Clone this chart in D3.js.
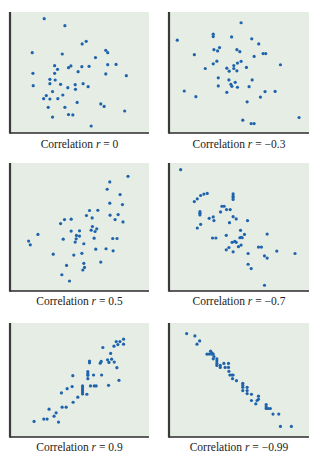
<!DOCTYPE html>
<html><head><meta charset="utf-8">
<script src="https://cdn.jsdelivr.net/npm/d3@7"></script>
<style>html,body{margin:0;padding:0;background:#fff;}svg{display:block;}</style>
</head><body>
<svg id="c" width="323" height="460"></svg>
<script>
// Panel labels (correlation coefficients)
const rLabels = ["0", "\u22120.3", "0.5", "\u22120.7", "0.9", "\u22120.99"];

// Panel 1: r = 0
const p1x = [24.6,39.5,51.9,54.8,16.0,37.6,68.9,70.3,61.5,32.1,34.2,42.1,43.8,51.7,56.9,70.3,76.3,16.5,32.1,49.0,68.9,83.7,28.7,32.5,16.7,28.7,36.4,46.9,52.6,41.6,47.1,56.2,30.6,38.0,26.1,24.2,28.7,34.4,48.3,65.3,67.7,27.5,39.5,82.5,42.1,45.2,30.6,58.4];
const p1y = [94.5,88.7,73.6,75.8,66.4,65.3,68.3,66.4,62.3,55.6,52.6,54.0,55.4,54.8,55.1,56.5,56.7,49.3,49.3,50.7,48.8,47.4,44.4,43.8,39.1,40.8,40.2,39.9,40.8,37.5,36.1,38.3,34.2,31.4,30.9,28.4,28.1,28.4,25.3,24.0,22.0,21.2,21.2,18.2,15.2,14.9,13.2,5.8];

// Panel 2: r = -0.3
const p2x = [51.5,31.6,31.6,5.9,44.7,59.1,64.1,36.1,32.1,34.7,48.5,50.6,18.1,67.2,69.1,60.8,34.2,31.6,51.5,48.9,46.3,41.3,46.3,43.0,48.5,25.9,55.3,79.6,35.2,42.8,59.4,47.3,44.2,44.9,35.2,48.9,57.2,41.3,68.6,75.8,10.9,19.2,65.3,55.8,92.9,52.7,58.7,60.8];
const p2y = [91.1,81.7,79.7,76.7,79.4,77.8,73.6,70.6,68.9,67.8,68.9,67.2,64.7,65.6,65.6,63.3,59.4,57.2,59.2,57.8,55.8,53.6,53.3,51.1,51.4,53.3,54.2,56.4,45.6,43.9,43.9,41.9,40.3,38.6,38.9,37.8,38.3,33.6,34.2,34.4,34.7,30.0,29.7,25.8,12.8,10.6,7.8,7.8];

// Panel 3: r = 0.5
const p3x = [84.9,71.8,69.9,79.2,71.8,80.9,57.2,63.2,55.0,59.1,72.0,77.8,75.6,81.3,39.2,44.0,36.4,59.3,62.4,58.4,61.2,44.0,50.0,47.8,50.0,47.6,46.9,38.3,53.1,60.5,73.9,77.0,20.1,13.4,14.6,61.7,69.1,74.2,31.1,45.9,51.7,65.3,53.1,40.7,53.6,52.4,37.3,42.8];
const p3y = [89.6,85.2,79.5,75.3,68.6,67.5,62.9,63.1,59.0,57.1,59.2,59.7,55.8,54.0,55.8,56.1,52.7,50.4,48.6,47.5,46.5,46.8,47.0,43.4,42.9,40.8,38.2,40.5,36.9,41.3,41.0,41.0,44.2,39.0,36.1,32.7,33.0,31.4,28.8,28.1,29.4,22.6,21.6,20.0,18.4,16.4,12.7,7.8];

// Panel 4: r = -0.7
const p4x = [8.3,27.3,24.9,22.6,20.2,18.1,45.8,45.8,45.8,45.8,37.8,39.4,36.8,41.1,43.7,22.1,22.1,22.1,28.7,31.6,32.1,45.8,48.0,43.2,56.1,22.6,20.2,51.1,53.9,51.5,50.6,52.3,40.9,31.1,33.5,70.1,47.0,45.1,48.0,51.5,49.6,42.8,40.9,45.8,63.9,66.0,56.5,68.2,70.1,77.0,90.0,56.5,58.7,68.2];
const p4y = [94.8,76.2,75.7,74.6,72.0,69.9,75.9,74.3,73.0,71.5,66.2,66.2,61.8,63.6,63.6,62.0,60.7,59.4,56.8,57.9,55.0,58.1,56.3,53.4,55.0,52.1,49.2,47.4,44.2,41.9,41.6,41.6,43.5,41.4,41.4,44.5,38.7,38.0,38.0,35.9,34.6,34.0,32.2,30.6,34.3,34.3,29.3,27.5,25.7,31.2,29.3,20.9,17.5,4.5];

// Panel 5: r = 0.9
const p5x = [81.7,79.1,76.4,81.7,77.6,74.8,66.8,72.4,70.2,73.1,71.2,75.0,65.6,64.9,57.2,57.2,76.9,56.0,56.0,56.0,60.1,65.9,45.2,56.0,78.4,70.9,57.9,60.6,62.0,52.2,52.2,52.2,52.2,52.2,44.7,41.1,37.0,55.3,48.8,45.4,37.5,40.4,28.1,33.2,31.7,34.9,24.3,26.7,17.3];
const p5y = [85.8,83.7,83.7,81.4,81.1,79.7,78.5,73.3,67.7,68.3,65.4,65.7,66.3,64.8,66.6,65.1,60.8,57.3,55.5,54.1,54.4,54.4,53.8,51.2,49.7,45.3,44.8,44.8,44.8,44.8,43.0,41.3,39.5,37.8,44.2,42.4,38.7,37.5,34.9,30.5,26.2,26.2,24.4,21.2,18.3,13.1,15.7,15.7,13.7];

// Panel 6: r = -0.99
const p6x = [12.6,18.5,21.9,20.0,29.7,27.1,28.7,30.4,31.6,30.6,32.1,31.6,34.2,34.2,34.2,39.2,42.5,36.6,34.2,36.6,40.1,42.5,42.8,43.5,44.9,45.8,45.4,48.2,52.7,52.7,52.7,52.7,55.8,55.8,55.8,58.9,63.9,63.9,62.9,58.9,62.0,69.4,69.4,69.4,70.8,72.4,74.3,78.4,79.6,87.4];
const p6y = [90.7,88.7,84.3,81.4,75.3,72.7,72.7,72.7,72.7,73.8,70.6,68.6,68.6,66.6,64.5,64.5,64.5,62.8,62.8,61.0,61.0,61.0,57.6,54.4,54.4,54.4,51.2,49.4,47.1,45.3,43.6,40.7,43.6,40.7,38.1,37.5,35.8,33.1,32.0,32.0,29.1,28.5,26.5,25.0,25.0,25.0,20.1,20.1,9.3,9.3];

const seriesX = [p1x, p2x, p3x, p4x, p5x, p6x];
const seriesY = [p1y, p2y, p3y, p4y, p5y, p6y];

// layout
const cols = [{x:10, w:139}, {x:169, w:140}];
const rows = [{y:12, h:121, ly:148}, {y:163, h:128, ly:305}, {y:323, h:114, ly:451}];

const svg = d3.select("#c");
seriesX.forEach((xs, i) => {
  const c = cols[i % 2], r = rows[Math.floor(i / 2)];
  const x = d3.scaleLinear().domain([0, 100]).range([c.x, c.x + c.w]);
  const y = d3.scaleLinear().domain([0, 100]).range([r.y + r.h, r.y]);
  const g = svg.append("g");
  g.append("rect").attr("x", c.x).attr("y", r.y).attr("width", c.w).attr("height", r.h)
    .attr("fill", "#e5ede4");
  g.selectAll("circle").data(xs.map((v, k) => [v, seriesY[i][k]])).join("circle")
    .attr("cx", d => x(d[0])).attr("cy", d => y(d[1])).attr("r", 1.6)
    .attr("fill", "#1f63ad");
  // axes (no ticks)
  g.append("line").attr("x1", c.x).attr("x2", c.x + c.w).attr("y1", r.y + r.h).attr("y2", r.y + r.h)
    .attr("stroke", "#2a2a2a").attr("stroke-width", 1.5);
  g.append("line").attr("x1", c.x).attr("x2", c.x).attr("y1", r.y).attr("y2", r.y + r.h + 0.75)
    .attr("stroke", "#3a3a3a").attr("stroke-width", 2.2);
  const t = g.append("text").attr("x", c.x + c.w / 2).attr("y", r.ly)
    .attr("text-anchor", "middle").attr("font-family", "'Liberation Serif', serif")
    .attr("font-size", 11.5).attr("fill", "#222");
  t.append("tspan").text("Correlation ");
  t.append("tspan").attr("font-style", "italic").text("r");
  t.append("tspan").text(" = " + rLabels[i]);
});
</script>
</body></html>
